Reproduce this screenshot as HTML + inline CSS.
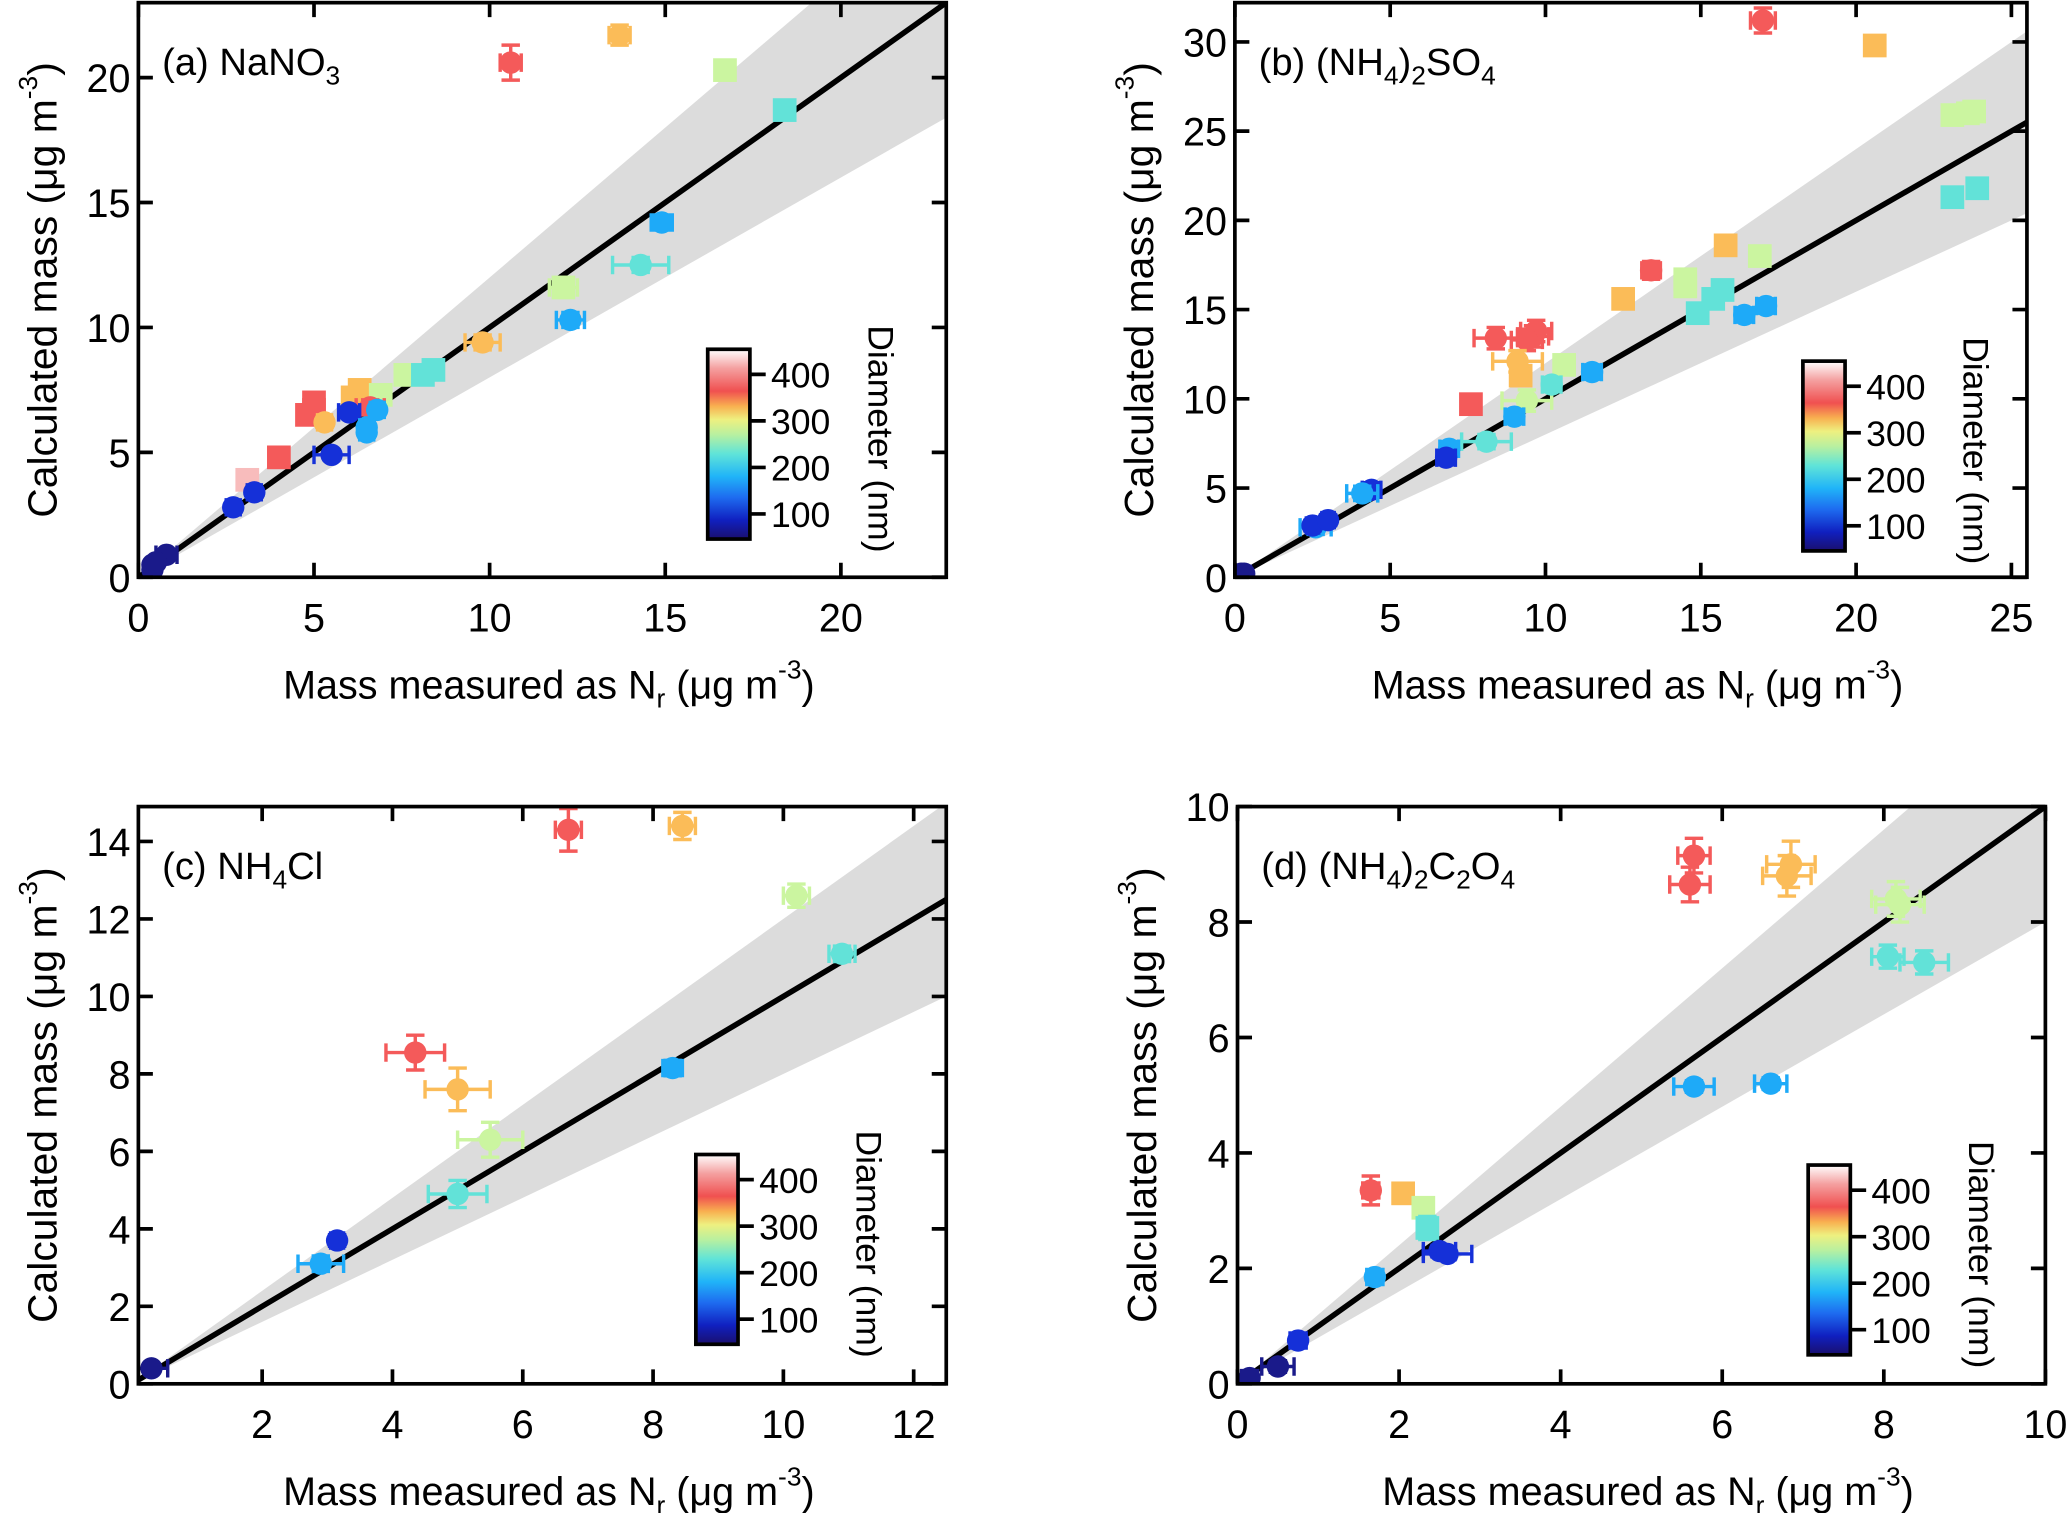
<!DOCTYPE html>
<html><head><meta charset="utf-8"><style>
html,body{margin:0;padding:0;background:#fff}
svg{display:block}
text{font-family:"Liberation Sans",sans-serif;fill:#000}
</style></head><body>
<svg id="fig" xmlns="http://www.w3.org/2000/svg" width="2067" height="1513" viewBox="0 0 1568.4 1148">
<defs>
<linearGradient id="cmap" x1="0" y1="1" x2="0" y2="0">
<stop offset="0" stop-color="#1a0f6e"/>
<stop offset="0.1" stop-color="#1020c0"/>
<stop offset="0.22" stop-color="#1e6cf0"/>
<stop offset="0.33" stop-color="#20b4f8"/>
<stop offset="0.45" stop-color="#60e4d8"/>
<stop offset="0.55" stop-color="#b8f0a0"/>
<stop offset="0.63" stop-color="#eef080"/>
<stop offset="0.7" stop-color="#f8b050"/>
<stop offset="0.78" stop-color="#f05050"/>
<stop offset="0.9" stop-color="#f4a0a0"/>
<stop offset="1" stop-color="#ffffff"/>
</linearGradient>
</defs>
</svg>
<script>
const COL={nv:'#1a1a8a',bl:'#1530d8',lb:'#1eaaf8',tq:'#62e2d8',lg:'#cbf5a0',or:'#fbbc58',rd:'#f45a5a',pk:'#f8bcbc'};
// Panel a data
const aX=[10.6,13.7,16.7,18.4,14.9,14.3,12.1,12.3,9.8,7.6,8.1,8.4,6.3,6.1,6.9,6.6,5.0,4.8,5.0,5.3,6.0,6.8,6.5,6.5,5.5,4.0,3.1,3.3,2.7,0.8,0.4,0.4,0.5];
const aY=[20.6,21.7,20.3,18.7,14.2,12.5,11.6,10.3,9.4,8.1,8.1,8.3,7.5,7.2,7.3,6.8,7.0,6.5,6.7,6.2,6.6,6.7,6.0,5.8,4.9,4.8,3.9,3.4,2.8,0.9,0.5,0.3,0.6];
const aC=['rd','or','lg','tq','lb','tq','lg','lb','or','lg','tq','tq','or','or','lg','rd','rd','rd','rd','or','bl','lb','lb','lb','bl','rd','pk','bl','bl','nv','nv','nv','nv'];
const aS=['c','c','s','s','c','c','s','c','c','s','s','s','s','s','s','c','s','s','s','c','c','c','c','c','c','s','s','c','c','c','c','c','c'];
const aEX=[0.3,0.3,0.2,0.2,0.3,0.8,0.4,0.4,0.5,0.2,0.2,0.2,0.2,0.2,0.2,0.4,0.2,0.2,0.2,0.2,0.3,0.2,0.2,0.2,0.5,0.2,0.1,0.2,0.2,0.3,0.1,0.1,0.1];
const aEY=[0.7,0.4,0.2,0.2,0.3,0.3,0.4,0.3,0.3,0.2,0.2,0.2,0.3,0.2,0.2,0.3,0.3,0.3,0.3,0.2,0.2,0.2,0.2,0.2,0.2,0.2,0.2,0.2,0.2,0.2,0.1,0.1,0.1];
// Panel b data
const bX=[17.0,20.6,23.1,23.6,23.8,23.1,23.9,17.1,16.4,15.8,16.9,14.5,14.5,15.7,15.4,14.9,13.4,12.5,8.4,9.7,9.6,9.4,9.1,9.2,10.6,9.4,11.5,10.2,9.0,7.6,8.1,6.9,6.8,4.4,4.1,2.6,2.5,3.0,0.3,0.2];
const bY=[31.2,29.8,25.9,26.0,26.1,21.3,21.8,15.2,14.7,18.6,18.0,16.7,16.3,16.1,15.6,14.8,17.2,15.6,13.4,13.8,13.5,13.3,12.1,11.3,11.9,9.9,11.5,10.8,9.0,9.7,7.6,7.2,6.7,4.9,4.7,2.8,2.9,3.2,0.2,0.2];
const bC=['rd','or','lg','lg','lg','tq','tq','lb','lb','or','lg','lg','lg','tq','tq','tq','rd','or','rd','rd','rd','rd','or','or','lg','lg','lb','tq','lb','rd','tq','lb','bl','bl','lb','lb','bl','bl','nv','nv'];
const bS=['c','s','s','s','s','s','s','c','c','s','s','s','s','s','s','s','c','s','c','c','c','c','c','s','s','c','c','c','c','s','c','c','c','c','c','c','c','c','c','c'];
const bEX=[0.4,0.3,0.3,0.3,0.3,0.2,0.3,0.3,0.3,0.3,0.3,0.3,0.3,0.3,0.3,0.3,0.3,0.3,0.7,0.5,0.5,0.5,0.8,0.3,0.3,0.8,0.3,0.3,0.3,0.3,0.8,0.3,0.3,0.3,0.5,0.5,0.2,0.2,0.2,0.2];
const bEY=[0.7,0.4,0.4,0.4,0.4,0.4,0.4,0.4,0.4,0.4,0.4,0.4,0.4,0.4,0.4,0.4,0.5,0.4,0.6,0.6,0.6,0.6,0.6,0.4,0.4,0.6,0.4,0.4,0.4,0.4,0.4,0.4,0.4,0.4,0.4,0.4,0.3,0.3,0.2,0.2];
// Panel c data
const cX=[6.7,8.45,10.2,10.9,8.3,4.35,5.0,5.5,5.0,3.15,2.9,0.3];
const cY=[14.3,14.4,12.6,11.1,8.15,8.55,7.6,6.3,4.9,3.7,3.1,0.4];
const cC=['rd','or','lg','tq','lb','rd','or','lg','tq','bl','lb','nv'];
const cS=['c','c','c','c','c','c','c','c','c','c','c','c'];
const cEX=[0.2,0.2,0.2,0.2,0.15,0.45,0.5,0.5,0.45,0.1,0.35,0.25];
const cEY=[0.55,0.35,0.3,0.2,0.2,0.45,0.55,0.45,0.35,0.15,0.2,0.1];
// Panel d data
const dX=[5.65,5.6,6.85,6.8,8.15,8.2,8.05,8.5,5.65,6.6,1.65,2.05,2.3,2.35,2.5,2.6,1.7,0.75,0.5,0.15];
const dY=[9.15,8.65,9.0,8.8,8.4,8.3,7.4,7.3,5.15,5.2,3.35,3.3,3.05,2.7,2.3,2.25,1.85,0.75,0.3,0.1];
const dC=['rd','rd','or','or','lg','lg','tq','tq','lb','lb','rd','or','lg','tq','bl','bl','lb','bl','nv','nv'];
const dS=['c','c','c','c','c','c','c','c','c','c','c','s','s','s','c','c','c','c','c','c'];
const dEX=[0.2,0.25,0.3,0.3,0.3,0.3,0.2,0.3,0.25,0.2,0.1,0.05,0.05,0.05,0.2,0.3,0.1,0.1,0.2,0.1];
const dEY=[0.3,0.3,0.4,0.35,0.3,0.3,0.2,0.2,0.1,0.1,0.25,0.1,0.1,0.2,0.1,0.1,0.1,0.1,0.1,0.1];
const aXT=[0,5,10,15,20], aYT=[0,5,10,15,20];
const bXT=[0,5,10,15,20,25], bYT=[0,5,10,15,20,25,30];
const cXT=[2,4,6,8,10,12], cYT=[0,2,4,6,8,10,12,14];
const dXT=[0,2,4,6,8,10], dYT=[0,2,4,6,8,10];
const cbT=[100,200,300,400];

const NS='http://www.w3.org/2000/svg';
const svg=document.getElementById('fig');
function mk(tag,attrs,parent){const e=document.createElementNS(NS,tag);for(const k in attrs)e.setAttribute(k,attrs[k]);(parent||svg).appendChild(e);return e;}

function panel(P){
  const g=mk('g',{});
  
  
  const sx=v=>P.L+(v-P.x0)/(P.x1-P.x0)*(P.R-P.L);
  const sy=v=>P.B-(v-P.y0)/(P.y1-P.y0)*(P.B-P.T);
  const cp='clip'+P.name;
  const cl=mk('clipPath',{id:cp},g);mk('rect',{x:P.L,y:P.T,width:P.R-P.L,height:P.B-P.T},cl);
  const band=mk('polygon',{points:`${sx(0)},${sy(0)} ${sx(P.x1)},${sy(P.x1*1.2)} ${sx(P.x1)},${sy(P.x1*0.8)}`,fill:'#dcdcdc','clip-path':`url(#${cp})`},g);
  
  
  const ln=mk('line',{x1:sx(0),y1:sy(0),x2:sx(Math.min(P.x1,P.y1)),y2:sy(Math.min(P.x1,P.y1)),stroke:'#000','stroke-width':4.2,'clip-path':`url(#${cp})`},g);
  
  
  for(let i=0;i<P.X.length;i++){
    const col=COL[P.C[i]],cx=sx(P.X[i]),cy=sy(P.Y[i]);
    const pg=mk('g',{stroke:col,fill:col,'stroke-width':2.6,'clip-path':`url(#${cp})`},g);
    
    
    const xa=sx(P.X[i]-P.EX[i]),xb=sx(P.X[i]+P.EX[i]),ya=sy(P.Y[i]-P.EY[i]),yb=sy(P.Y[i]+P.EY[i]);
    mk('path',{d:`M${xa},${cy}H${xb}M${xa},${cy-7}V${cy+7}M${xb},${cy-7}V${cy+7}M${cx},${ya}V${yb}M${cx-7},${ya}H${cx+7}M${cx-7},${yb}H${cx+7}`,fill:'none'},pg);
    if(P.S[i]==='c')mk('circle',{cx:cx,cy:cy,r:8.5,stroke:'none'},pg);
    else mk('rect',{x:cx-9,y:cy-9,width:18,height:18,stroke:'none'},pg);
  }
  const frame=mk('rect',{x:P.L,y:P.T,width:P.R-P.L,height:P.B-P.T,fill:'none',stroke:'#000','stroke-width':2.8},g);
  
  
  P.XT.forEach(v=>{const x=sx(v);
    mk('path',{d:`M${x},${P.B}V${P.B-11}M${x},${P.T}V${P.T+11}`,stroke:'#000','stroke-width':2.8},g);
    const t=mk('text',{x:x,y:P.B+41,'font-size':30,'text-anchor':'middle'},g);t.textContent=v;
    
    });
  P.YT.forEach(v=>{const y=sy(v);
    mk('path',{d:`M${P.L},${y}H${P.L+11}M${P.R},${y}H${P.R-11}`,stroke:'#000','stroke-width':2.8},g);
    const t=mk('text',{x:P.L-6,y:y+11,'font-size':30,'text-anchor':'end'},g);t.textContent=v;
    
    });
  const lab=mk('text',{x:P.L+18,y:P.T+55,'font-size':29},g);lab.innerHTML=P.label;
  
  
  const xt=mk('text',{x:(P.L+P.R)/2+5,y:P.B+92,'font-size':30,'text-anchor':'middle'},g);
  xt.innerHTML='Mass measured as N<tspan font-size="20" dy="7">r</tspan><tspan dy="-7"> (μg m</tspan><tspan font-size="20" dy="-15">-3</tspan><tspan dy="15">)</tspan>';
  
  
  const yt=mk('text',{x:0,y:0,'font-size':31,'text-anchor':'middle',transform:`translate(${P.L-62},${(P.T+P.B)/2}) rotate(-90)`},g);
  yt.innerHTML='Calculated mass (μg m<tspan font-size="20" dy="-15">-3</tspan><tspan dy="15">)</tspan>';
  
  
  const cb=mk('g',{},g);
  
  
  const cbT0=P.cbY, cbB=P.cbY+144, cs=v=>cbB-(v-46)/(454-46)*144;
  mk('rect',{x:P.cbX,y:cbT0,width:32,height:144,fill:'url(#cmap)',stroke:'#000','stroke-width':2.8},cb);
  cbT.forEach(v=>{const y=cs(v);mk('line',{x1:P.cbX+32,y1:y,x2:P.cbX+44,y2:y,stroke:'#000','stroke-width':2.8},cb);
    const t=mk('text',{x:P.cbX+48,y:y+10,'font-size':27},cb);t.textContent=v;
    
    });
  const ct=mk('text',{x:0,y:0,'font-size':27,'text-anchor':'middle',transform:`translate(${P.cbX+122},${cbT0+68}) rotate(90)`},cb);
  ct.textContent='Diameter (nm)';
  
  
}
panel({name:'panel-a-nano3',L:105,R:718,T:2,B:438,x0:0,x1:23,y0:0,y1:23,X:aX,Y:aY,C:aC,S:aS,EX:aEX,EY:aEY,XT:aXT,YT:aYT,label:'(a) NaNO<tspan font-size="20" dy="7">3</tspan>',cbX:537,cbY:265});
panel({name:'panel-b-nh4-2so4',L:937,R:1538,T:2,B:438,x0:0,x1:25.5,y0:0,y1:32.2,X:bX,Y:bY,C:bC,S:bS,EX:bEX,EY:bEY,XT:bXT,YT:bYT,label:'(b) (NH<tspan font-size="20" dy="7">4</tspan><tspan dy="-7">)</tspan><tspan font-size="20" dy="7">2</tspan><tspan dy="-7">SO</tspan><tspan font-size="20" dy="7">4</tspan>',cbX:1368,cbY:274});
panel({name:'panel-c-nh4cl',L:105,R:718,T:612,B:1050,x0:0.1,x1:12.5,y0:0,y1:14.9,X:cX,Y:cY,C:cC,S:cS,EX:cEX,EY:cEY,XT:cXT,YT:cYT,label:'(c) NH<tspan font-size="20" dy="7">4</tspan><tspan dy="-7">Cl</tspan>',cbX:528,cbY:876});
panel({name:'panel-d-nh4-2c2o4',L:939,R:1552,T:612,B:1050,x0:0,x1:10,y0:0,y1:10,X:dX,Y:dY,C:dC,S:dS,EX:dEX,EY:dEY,XT:dXT,YT:dYT,label:'(d) (NH<tspan font-size="20" dy="7">4</tspan><tspan dy="-7">)</tspan><tspan font-size="20" dy="7">2</tspan><tspan dy="-7">C</tspan><tspan font-size="20" dy="7">2</tspan><tspan dy="-7">O</tspan><tspan font-size="20" dy="7">4</tspan>',cbX:1372,cbY:884});
</script>
</body></html>
